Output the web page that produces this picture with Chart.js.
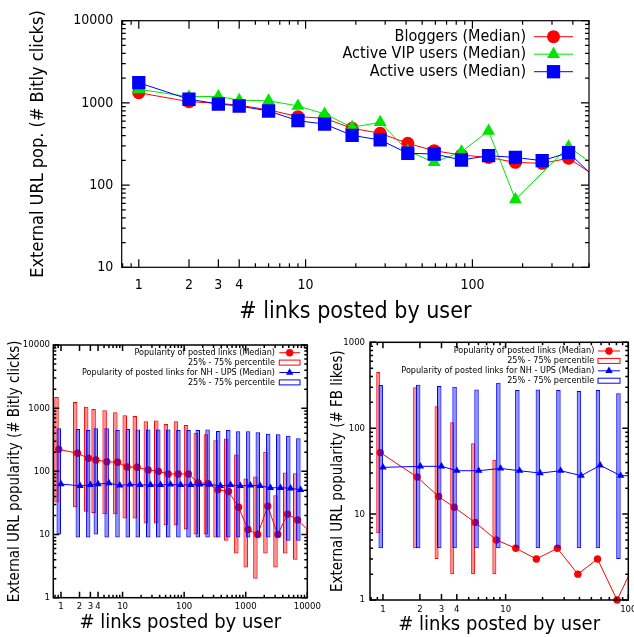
<!DOCTYPE html>
<html>
<head>
<meta charset="utf-8">
<title>Link popularity vs. links posted</title>
<script src="https://cdn.jsdelivr.net/npm/chart.js@4.4.1/dist/chart.umd.min.js"></script>
<style>
  html, body { margin: 0; padding: 0; background: #fff; overflow: hidden; }
  #wrap { position: relative; width: 634px; height: 637px; }
  canvas { position: absolute; }
</style>
</head>
<body>
<div id="wrap">
  <canvas id="topChart" width="634" height="330" style="left:0;top:0"></canvas>
  <canvas id="fbChart" width="317" height="307" style="left:317px;top:330px"></canvas>
  <canvas id="bitlyChart" width="330" height="307" style="left:0;top:330px"></canvas>
</div>
<script>
// ---- top panel: median popularity per user group ----
const groupX   = [1, 2, 3, 4, 6, 9, 13, 19, 28, 41, 59, 86, 125, 181, 262, 377, 545];
const bloggers = [1330, 1035, 990, 935, 825, 680, 650, 491, 427, 322, 262, 232, 217, 189, 184, 212, 129];
const vipUsers = [1460, 1190, 1200, 1080, 1060, 920, 735, 505, 580, 260, 189, 255, 455, 67, null, 293, 171];
const active   = [1760, 1107, 970, 917, 797, 607, 553, 403, 354, 244, 239, 202, 228, 217, 198, 248, 122];
const topXLabels = [1, 2, 3, 4, 10, 100];
const topYLabels = [10, 100, 1000, 10000];

// ---- bottom left: Bitly clicks ----
const bitlyRedX   = [0.92, 1.85, 2.79, 3.68, 5.56, 8.3, 11.8, 17.2, 26, 38.3, 55, 80, 117, 168, 245, 352, 526, 766, 1087, 1563, 2275, 3311, 4764, 6934, 11000];
const bitlyMedian = [223, 193, 161, 151, 142, 139, 117, 116, 105, 100, 91, 91, 91, 66, 64, 51, 48, 27, 12, 10, 28, 10, 21, 17, 11];
const bitlyLo     = [32, 27, 23, 22, 21, 21, 18, 18, 15, 15, 14, 14, 12, 10, 10, 9, 8, 5, 3, 2, 5, 3, 5, 4];
const bitlyHi     = [1500, 1250, 1050, 970, 930, 860, 770, 750, 620, 640, 560, 620, 540, 410, 385, 310, 330, 185, 77, 83, 205, 42, 96, 93];
const nhBlueX     = [1, 2.04, 3, 4, 6, 9, 13.2, 19.2, 28.4, 41.3, 60, 87.7, 128, 181, 261, 389, 567, 816, 1189, 1709, 2519, 3670, 5346, 7785, 11300];
const nhMedian    = [63, 59, 61, 63, 65, 60, 62, 61, 61, 61, 62, 61, 61, 62, 62, 59, 61, 59, 60, 59, 55, 55, 54, 51, 48];
const nhLo        = [10, 9, 9, 10, 9, 9, 9, 9, 9, 9, 9, 9, 9, 9, 9, 9, 9, 9, 9, 9, 9, 9, 8, 8];
const nhHi        = [479, 468, 451, 479, 479, 451, 470, 460, 460, 460, 460, 451, 451, 451, 460, 435, 451, 430, 430, 414, 395, 385, 367, 333];
const bitlyXLabels = [1, 2, 3, 4, 10, 100, 1000, 10000];
const bitlyYLabels = [1, 10, 100, 1000, 10000];

// ---- bottom right: FB likes ----
const fbRedX    = [0.95, 1.9, 2.84, 3.81, 5.64, 8.4, 12.1, 17.8, 26.4, 38.8, 56.1, 81, 117];
const fbMedian  = [52, 27, 16, 12, 8, 5, 4, 3, 4, 2, 3, 1, 3];
const fbLo      = [6, 4, 3, 2, 2, 2, 0, 0, 0, 0, 0, 0];
const fbHi      = [450, 300, 180, 117, 67, 43, 19, 16, 19, 7, 12.5, 3];
const fbBlueX   = [1, 2.02, 3, 4, 6.04, 9.1, 13, 19.1, 28.1, 41.3, 59, 86.7, 128];
const fbNhMed   = [35, 36, 36, 32, 32, 34, 32, 30, 32, 28, 37, 28, 28];
const fbNhLo    = [4, 4, 4, 4, 4, 4, 4, 4, 4, 4, 4, 3];
const fbNhHi    = [318, 320, 310, 304, 283, 339, 278, 283, 278, 271, 278, 255];
const fbXLabels = [1, 2, 3, 4, 10, 100];
const fbYLabels = [1, 10, 100, 1000];

const FONT = '"DejaVu Sans Condensed", "DejaVu Sans", sans-serif';
const RED = '#ff0000', GREEN = '#00e600', BLUE = '#0000ff';

Chart.defaults.font.family = FONT;
Chart.defaults.color = '#000';

// 1..9 x 10^n tick positions inside [min, max]
function logTicks(min, max) {
    const out = [];
    for (let e = Math.floor(Math.log10(min)); e <= Math.ceil(Math.log10(max)); e++) {
        for (let k = 1; k < 10; k++) {
            const v = k * Math.pow(10, e);
            if (v >= min * 0.999 && v <= max * 1.001) out.push({ value: v });
        }
    }
    return out;
}

function logAxis(o) {
    return {
        type: 'logarithmic',
        position: o.position,
        min: o.min, max: o.max,
        offset: false,
        beginAtZero: false,
        stacked: false,
        grid: { display: false, drawTicks: false },
        border: { display: false },
        afterBuildTicks: s => { s.ticks = logTicks(o.min, o.max); },
        afterFit: s => {
            if (o.width) s.width = o.width;
            if (o.height) s.height = o.height;
            s.paddingLeft = s.paddingRight = s.paddingTop = s.paddingBottom = 0;
        },
        ticks: {
            autoSkip: false, maxRotation: 0, minRotation: 0,
            padding: o.pad, color: '#000',
            font: { family: FONT, size: o.tickSize, lineHeight: 1 },
            callback: v => o.labels.includes(v) ? String(v) : ''
        },
        title: {
            display: true, text: o.title, color: '#000',
            font: { family: FONT, size: o.titleSize, lineHeight: 1 },
            padding: o.titlePad
        }
    };
}

function lineSet(label, xs, ys, color, style, radius, order) {
    return {
        type: 'line', label, order,
        data: xs.map((x, i) => ({ x, y: ys[i] })),
        borderColor: color, backgroundColor: color, borderWidth: 1,
        pointStyle: style, pointRadius: radius, pointHoverRadius: radius,
        pointBorderWidth: 0, pointBackgroundColor: color,
        tension: 0, spanGaps: true,
        clip: { left: 0, right: 0, top: 10, bottom: 10 },
        keyKind: 'line'
    };
}

function boxSet(label, xs, lo, hi, color, fill, width, order) {
    return {
        type: 'bar', label, order, stack: 'pct',
        data: lo.map((l, i) => ({ x: xs[i], y: [l, hi[i]] })),
        borderColor: color, backgroundColor: fill, borderWidth: 1,
        borderSkipped: false, barThickness: width, inflateAmount: 0,
        clip: { left: 0, right: 0, top: 0, bottom: 0 },
        keyKind: 'box'
    };
}

function drawMarker(ctx, style, r, x, y) {
    ctx.beginPath();
    if (style === 'circle') {
        ctx.arc(x, y, r, 0, Math.PI * 2);
    } else if (style === 'triangle') {
        ctx.moveTo(x, y - r);
        ctx.lineTo(x + r * 0.866, y + r / 2);
        ctx.lineTo(x - r * 0.866, y + r / 2);
        ctx.closePath();
    } else {
        const s = r * Math.SQRT1_2;
        ctx.rect(x - s, y - s, 2 * s, 2 * s);
    }
    ctx.fill();
}

// box frame with inward ticks on all four sides
const gnuFrame = {
    id: 'gnuFrame',
    afterDatasetsDraw(chart, args, opts) {
        const { ctx, chartArea: a } = chart;
        const xs = chart.scales.x, ys = chart.scales.y;
        ctx.save();
        ctx.strokeStyle = '#000';
        ctx.lineWidth = opts.lineWidth;
        ctx.beginPath();
        xs.ticks.forEach(t => {
            const p = xs.getPixelForValue(t.value);
            const len = t.label ? opts.major : opts.minor;
            ctx.moveTo(p, a.bottom); ctx.lineTo(p, a.bottom - len);
            ctx.moveTo(p, a.top); ctx.lineTo(p, a.top + len);
        });
        ys.ticks.forEach(t => {
            const p = ys.getPixelForValue(t.value);
            const len = t.label ? opts.major : opts.minor;
            ctx.moveTo(a.left, p); ctx.lineTo(a.left + len, p);
            ctx.moveTo(a.right, p); ctx.lineTo(a.right - len, p);
        });
        ctx.stroke();
        ctx.strokeRect(a.left, a.top, a.right - a.left, a.bottom - a.top);
        ctx.restore();
    }
};

// key: right-aligned text with a sample to its right
const gnuKey = {
    id: 'gnuKey',
    afterDraw(chart, args, opts) {
        const ctx = chart.ctx;
        ctx.save();
        ctx.font = opts.size + 'px ' + FONT;
        ctx.textAlign = 'right';
        ctx.textBaseline = 'middle';
        chart.data.datasets.forEach((ds, i) => {
            const y = opts.top + i * opts.rowH;
            ctx.fillStyle = '#000';
            ctx.fillText(ds.label, opts.textRight, y);
            ctx.strokeStyle = ds.borderColor;
            ctx.fillStyle = ds.borderColor;
            ctx.lineWidth = 1;
            if (ds.keyKind === 'box') {
                ctx.strokeRect(opts.sampleLeft, y - opts.boxH / 2, opts.sampleRight - opts.sampleLeft, opts.boxH);
            } else {
                ctx.beginPath();
                ctx.moveTo(opts.sampleLeft, y);
                ctx.lineTo(opts.sampleRight, y);
                ctx.stroke();
                drawMarker(ctx, ds.pointStyle, ds.pointRadius, (opts.sampleLeft + opts.sampleRight) / 2, y);
            }
        });
        ctx.restore();
    }
};

const common = {
    responsive: false,
    animation: false,
    events: []
};

new Chart(document.getElementById('topChart'), {
    type: 'line',
    data: {
        datasets: [
            lineSet('Bloggers (Median)', groupX, bloggers, RED, 'circle', 6.5, 3),
            lineSet('Active VIP users (Median)', groupX, vipUsers, GREEN, 'triangle', 7.5, 2),
            lineSet('Active users (Median)', groupX, active, BLUE, 'rect', 9.4, 1)
        ]
    },
    options: {
        ...common,
        layout: { padding: { left: 0, top: 20.7, right: 45, bottom: 0 } },
        plugins: {
            legend: { display: false }, tooltip: { enabled: false },
            gnuFrame: { lineWidth: 1.2, major: 8, minor: 4 },
            gnuKey: { size: 16, textRight: 526, sampleLeft: 534, sampleRight: 573, top: 36.7, rowH: 17.5, boxH: 6 }
        },
        scales: {
            x: logAxis({ position: 'bottom', min: 0.79, max: 500, height: 62.7, pad: 10.7, tickSize: 14,
                labels: topXLabels, title: '# links posted by user', titleSize: 23, titlePad: { top: 0, bottom: 6.5 } }),
            y: logAxis({ position: 'left', min: 10, max: 10000, width: 121.7, pad: 8.4, tickSize: 14,
                labels: topYLabels, title: 'External URL pop. (# Bitly clicks)', titleSize: 18, titlePad: { top: 29, bottom: 0 } })
        }
    },
    plugins: [gnuFrame, gnuKey]
});

new Chart(document.getElementById('bitlyChart'), {
    type: 'bar',
    data: {
        datasets: [
            lineSet('Popularity of posted links (Median)', bitlyRedX, bitlyMedian, RED, 'circle', 3.7, 4),
            boxSet('25% - 75% percentile', bitlyRedX, bitlyLo, bitlyHi, RED, 'rgba(255,0,0,0.42)', 4.5, 3),
            lineSet('Popularity of posted links for NH - UPS (Median)', nhBlueX, nhMedian, BLUE, 'triangle', 4.3, 2),
            boxSet('25% - 75% percentile', nhBlueX, nhLo, nhHi, BLUE, 'rgba(0,0,255,0.42)', 4.5, 1)
        ]
    },
    options: {
        ...common,
        layout: { padding: { left: 0, top: 15, right: 22.7, bottom: 0 } },
        plugins: {
            legend: { display: false }, tooltip: { enabled: false },
            gnuFrame: { lineWidth: 1.5, major: 6, minor: 3 },
            gnuKey: { size: 9, textRight: 275, sampleLeft: 279.3, sampleRight: 300, top: 22.7, rowH: 9.9, boxH: 5 }
        },
        scales: {
            x: logAxis({ position: 'bottom', min: 0.75, max: 10000, height: 39.3, pad: 4, tickSize: 9.5,
                labels: bitlyXLabels, title: '# links posted by user', titleSize: 20, titlePad: { top: 0, bottom: 4 } }),
            y: logAxis({ position: 'left', min: 1, max: 10000, width: 53.3, pad: 3.3, tickSize: 9.5,
                labels: bitlyYLabels, title: 'External URL popularity (# Bitly clicks)', titleSize: 15, titlePad: { top: 7.5, bottom: 0 } })
        }
    },
    plugins: [gnuFrame, gnuKey]
});

new Chart(document.getElementById('fbChart'), {
    type: 'bar',
    data: {
        datasets: [
            lineSet('Popularity of posted links (Median)', fbRedX, fbMedian, RED, 'circle', 3.7, 4),
            boxSet('25% - 75% percentile', fbRedX, fbLo, fbHi, RED, 'rgba(255,0,0,0.42)', 4, 3),
            lineSet('Popularity of posted links for NH - UPS (Median)', fbBlueX, fbNhMed, BLUE, 'triangle', 4.3, 2),
            boxSet('25% - 75% percentile', fbBlueX, fbNhLo, fbNhHi, BLUE, 'rgba(0,0,255,0.42)', 4.5, 1)
        ]
    },
    options: {
        ...common,
        layout: { padding: { left: 0, top: 12.3, right: 5.7, bottom: 0 } },
        plugins: {
            legend: { display: false }, tooltip: { enabled: false },
            gnuFrame: { lineWidth: 1.5, major: 6, minor: 3 },
            gnuKey: { size: 9, textRight: 277.3, sampleLeft: 281, sampleRight: 303, top: 21, rowH: 9.9, boxH: 5 }
        },
        scales: {
            x: logAxis({ position: 'bottom', min: 0.784, max: 100, height: 37, pad: 5, tickSize: 9.5,
                labels: fbXLabels, title: '# links posted by user', titleSize: 20, titlePad: { top: 0, bottom: 2 } }),
            y: logAxis({ position: 'left', min: 1, max: 1000, width: 53, pad: 5, tickSize: 9.5,
                labels: fbYLabels, title: 'External URL popularity (# FB likes)', titleSize: 15, titlePad: { top: 13.2, bottom: 0 } })
        }
    },
    plugins: [gnuFrame, gnuKey]
});
</script>
</body>
</html>
